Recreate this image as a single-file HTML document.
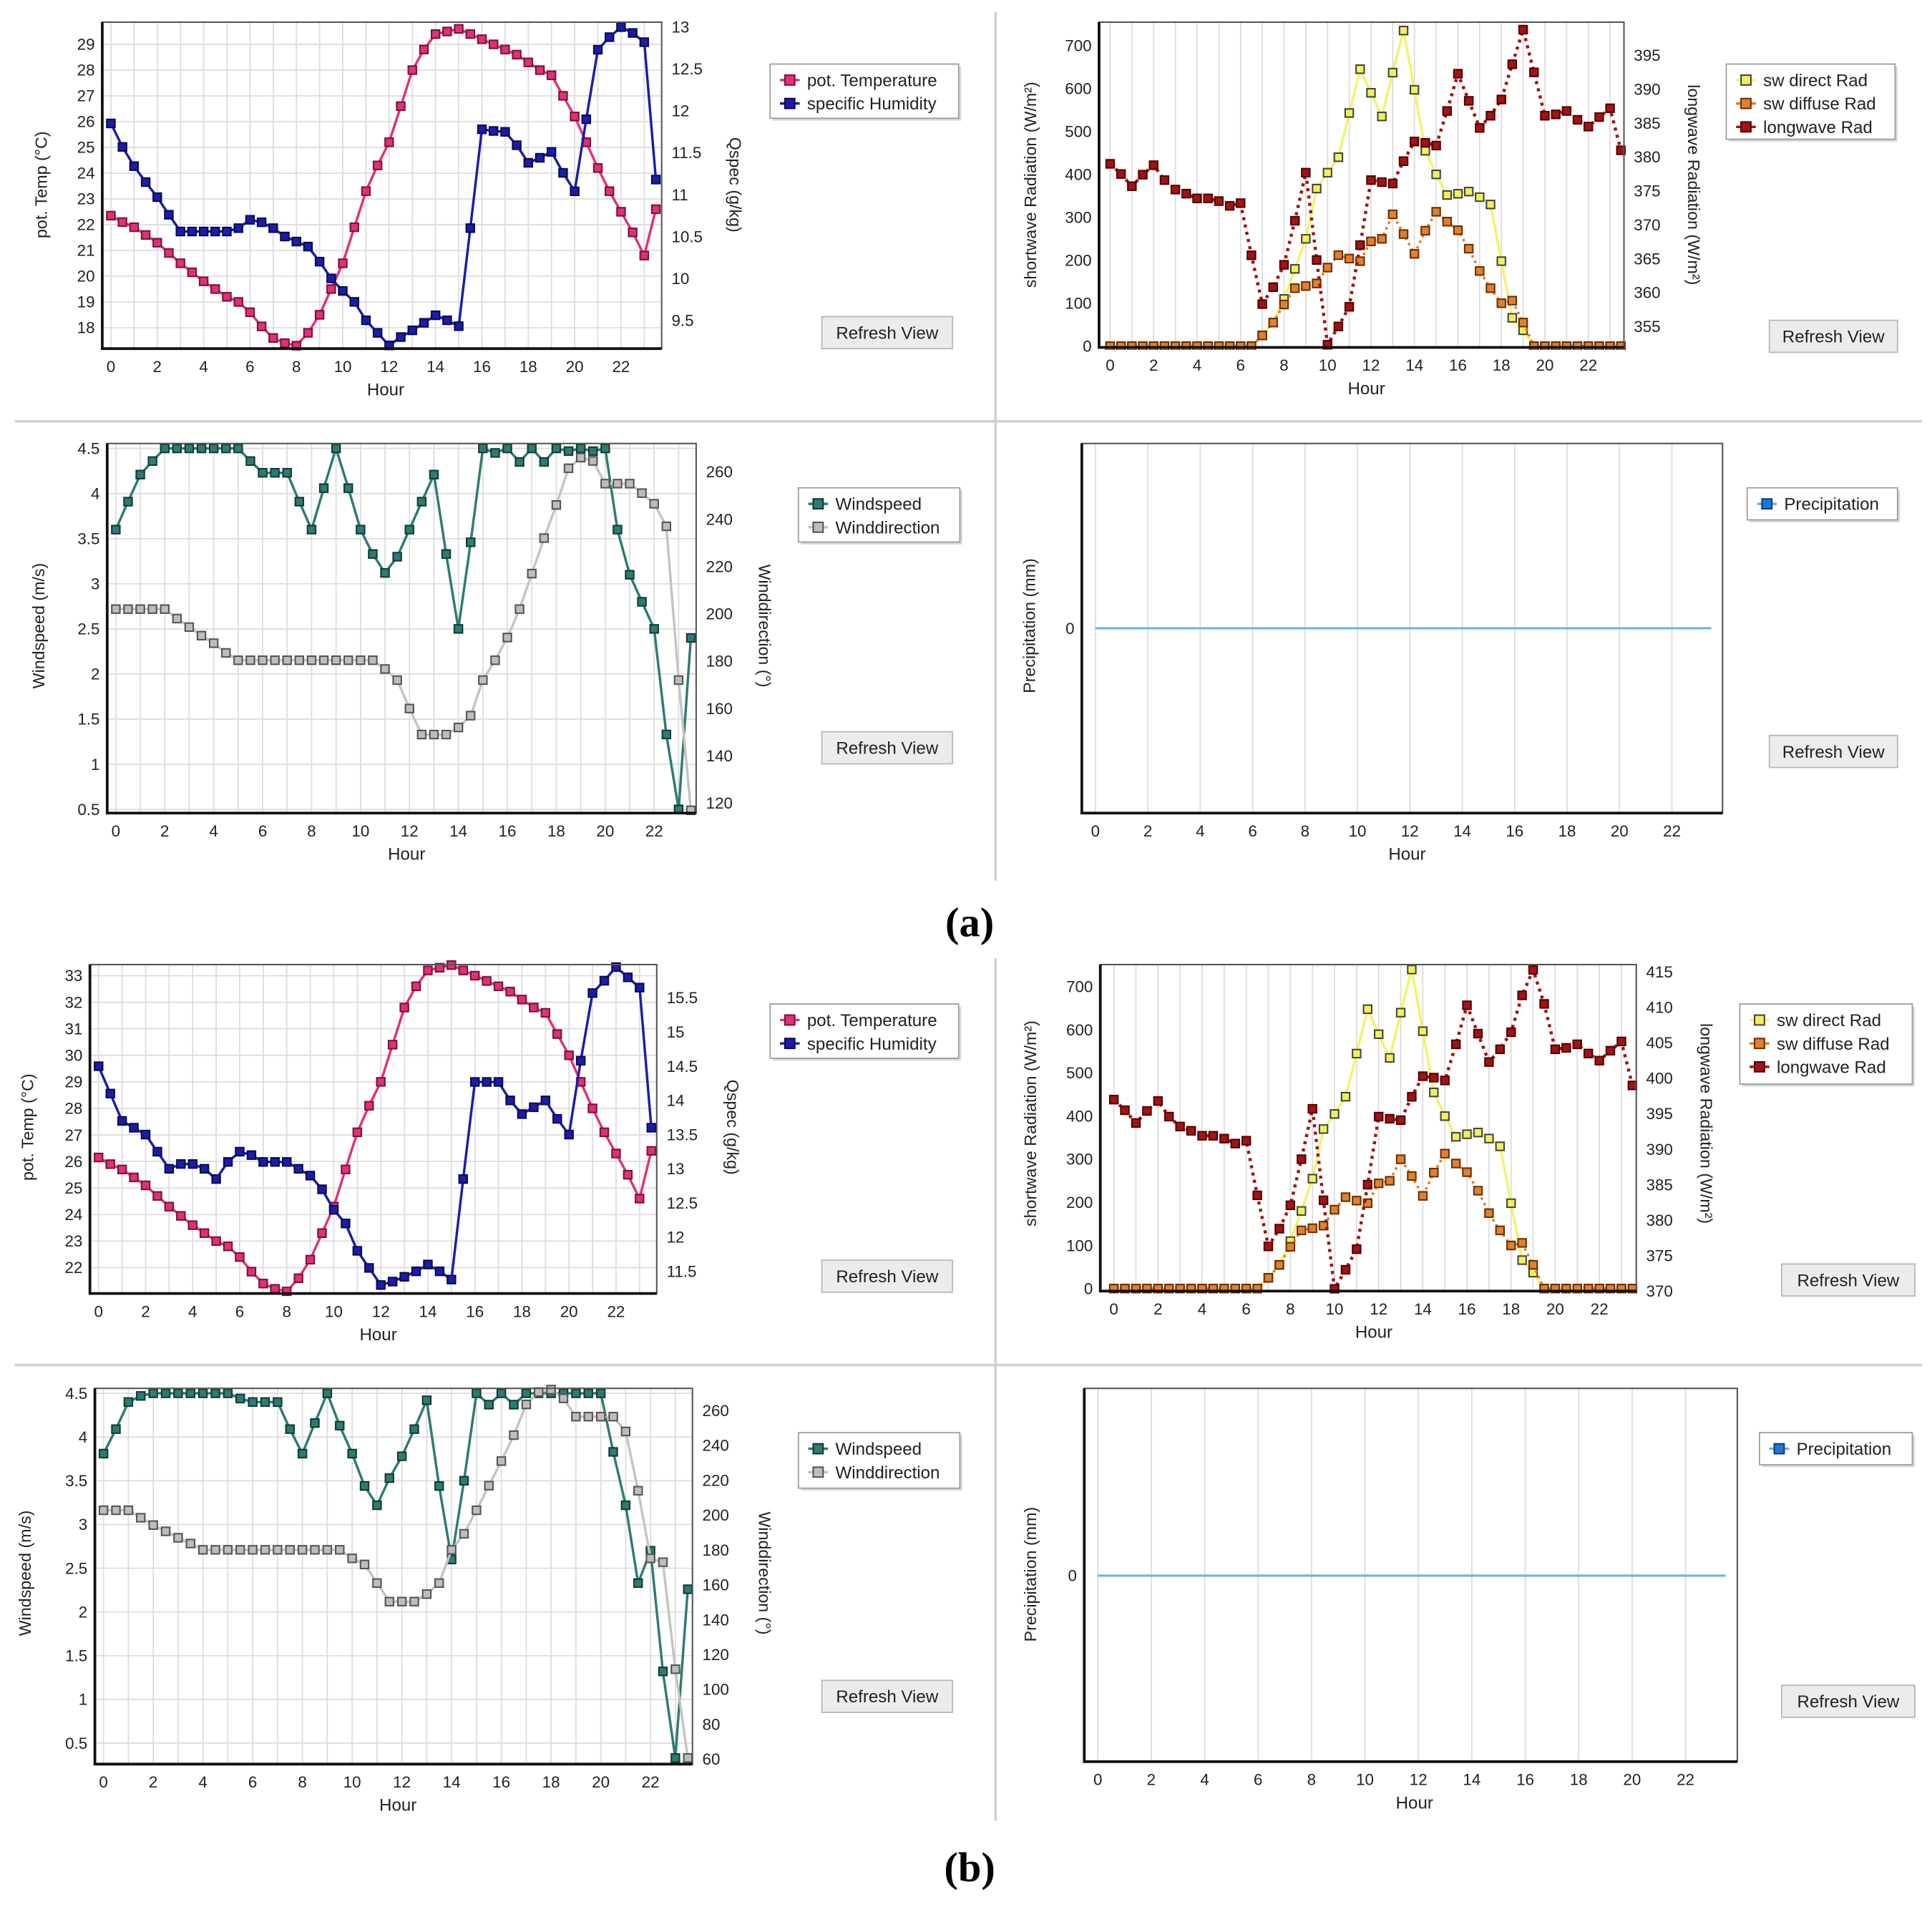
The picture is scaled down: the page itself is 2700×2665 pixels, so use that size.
<!DOCTYPE html>
<html><head><meta charset="utf-8"><title>Meteorological charts (a) and (b)</title>
<style>
html,body{margin:0;padding:0;background:#fff;}
svg{display:block;font-family:"Liberation Sans",sans-serif;}
</style></head>
<body>
<svg id="root" xmlns="http://www.w3.org/2000/svg" width="2700" height="2665" viewBox="0 0 1568 1548" preserveAspectRatio="none">
<rect x="0" y="0" width="1568" height="1548" fill="#fff"/>
<line x1="808" y1="10" x2="808" y2="715" stroke="#cfcfcf" stroke-width="2"/>
<line x1="808" y1="778" x2="808" y2="1478" stroke="#cfcfcf" stroke-width="2"/>
<line x1="12" y1="342" x2="1560" y2="342" stroke="#cfcfcf" stroke-width="2"/>
<line x1="12" y1="1108" x2="1560" y2="1108" stroke="#cfcfcf" stroke-width="2"/>
<text x="787" y="760" text-anchor="middle" font-family="Liberation Serif, serif" font-size="34" font-weight="bold">(a)</text>
<text x="787" y="1527" text-anchor="middle" font-family="Liberation Serif, serif" font-size="34" font-weight="bold">(b)</text>
</svg>
<script>
// ---------- data (half-hourly values, hour = index * 0.5) ----------
const xTickLabels = [0,2,4,6,8,10,12,14,16,18,20,22];

const tempA = [22.35,22.1,21.9,21.6,21.3,20.9,20.5,20.15,19.8,19.5,19.2,19.0,18.6,18.05,17.6,17.4,17.3,17.8,18.5,19.5,20.5,21.9,23.3,24.3,25.2,26.6,28.0,28.8,29.4,29.5,29.6,29.4,29.2,29.0,28.8,28.6,28.3,28.0,27.8,27.0,26.2,25.2,24.2,23.3,22.5,21.7,20.8,22.6];
const qspecA = [11.85,11.57,11.34,11.15,10.97,10.76,10.56,10.56,10.56,10.56,10.56,10.6,10.7,10.67,10.6,10.5,10.44,10.38,10.2,10.0,9.85,9.72,9.5,9.35,9.2,9.3,9.38,9.47,9.56,9.5,9.43,10.6,11.78,11.76,11.75,11.59,11.38,11.44,11.51,11.26,11.04,11.9,12.73,12.88,13.0,12.93,12.82,11.18];
const tempTicksA = [18,19,20,21,22,23,24,25,26,27,28,29];
const qspecTicksA = [9.5,10,10.5,11,11.5,12,12.5,13];

const swDirectA = [0,0,0,0,0,0,0,0,0,0,0,0,0,0,25,55,110,180,250,367,404,440,543,645,590,535,637,735,597,455,400,352,355,360,347,330,198,66,37,0,0,0,0,0,0,0,0,0];
const swDiffuseA = [0,0,0,0,0,0,0,0,0,0,0,0,0,0,25,55,97,135,140,146,183,212,204,198,244,250,307,261,215,269,313,290,270,227,175,135,100,106,55,0,0,0,0,0,0,0,0,0];
const longwaveA = [379,377.5,375.7,377.4,378.8,376.6,375.2,374.6,373.9,373.9,373.5,372.8,373.2,365.5,358.3,360.8,364.1,370.6,377.7,364.8,352.3,355,357.9,367,376.6,376.3,376.1,379.4,382.3,382.1,381.7,386.8,392.3,388.3,384.3,386.1,388.5,393.7,398.8,392.5,386.1,386.3,386.8,385.5,384.5,385.9,387.2,381];
const swTicksA = [0,100,200,300,400,500,600,700];
const lwTicksA = [355,360,365,370,375,380,385,390,395];

const windSpeedA = [3.6,3.91,4.21,4.36,4.5,4.5,4.5,4.5,4.5,4.5,4.5,4.36,4.23,4.23,4.23,3.91,3.6,4.06,4.5,4.06,3.6,3.33,3.12,3.3,3.6,3.91,4.21,3.33,2.5,3.46,4.5,4.45,4.5,4.35,4.5,4.35,4.5,4.47,4.5,4.47,4.5,3.6,3.1,2.8,2.5,1.33,0.5,2.4];
const windDirA = [202,202,202,202,202,198,194.4,190.8,187.6,183.5,180.4,180.4,180.4,180.4,180.4,180.4,180.4,180.4,180.4,180.4,180.4,180.4,176.7,172,160,149,149,149,152,157,172,180.4,190,202,217,232,246,261.5,266,264.6,255,255,255,251,246.5,237,172,117];
const wsTicks = [0.5,1,1.5,2,2.5,3,3.5,4,4.5];
const wdTicksA = [120,140,160,180,200,220,240,260];

const precipA = [0,0,0,0,0,0,0,0,0,0,0,0,0,0,0,0,0,0,0,0,0,0,0,0,0,0,0,0,0,0,0,0,0,0,0,0,0,0,0,0,0,0,0,0,0,0,0,0];
const precipTicks = [0];

const tempB = [26.15,25.9,25.7,25.4,25.1,24.7,24.3,23.95,23.6,23.3,23.0,22.8,22.4,21.85,21.4,21.2,21.1,21.6,22.3,23.3,24.3,25.7,27.1,28.1,29.0,30.4,31.8,32.6,33.2,33.3,33.4,33.2,33.0,32.8,32.6,32.4,32.1,31.8,31.6,30.8,30.0,29.0,28.0,27.1,26.3,25.5,24.6,26.4];
const qspecB = [14.5,14.1,13.7,13.6,13.5,13.25,13.0,13.07,13.07,13.0,12.85,13.1,13.25,13.2,13.1,13.1,13.1,13.0,12.9,12.7,12.4,12.2,11.8,11.55,11.3,11.35,11.42,11.5,11.6,11.5,11.38,12.85,14.27,14.27,14.27,14.0,13.8,13.9,14.0,13.73,13.5,14.58,15.57,15.75,15.95,15.8,15.65,13.6];
const tempTicksB = [22,23,24,25,26,27,28,29,30,31,32,33];
const qspecTicksB = [11.5,12,12.5,13,13.5,14,14.5,15,15.5];

const swDirectB = [0,0,0,0,0,0,0,0,0,0,0,0,0,0,25,55,110,180,255,370,405,445,545,648,590,535,640,740,597,455,400,352,358,362,348,330,198,66,37,0,0,0,0,0,0,0,0,0];
const swDiffuseB = [0,0,0,0,0,0,0,0,0,0,0,0,0,0,25,55,97,135,140,146,183,212,204,198,244,250,300,261,215,269,313,290,270,227,175,135,100,106,55,0,0,0,0,0,0,0,0,0];
const longwaveB = [397,395.5,393.7,395.4,396.8,394.6,393.2,392.6,391.9,391.9,391.5,390.8,391.2,383.5,376.3,378.8,382.1,388.6,395.7,382.8,370.3,373,375.9,385,394.6,394.3,394.1,397.4,400.3,400.1,399.7,404.8,410.3,406.3,402.3,404.1,406.5,411.7,415.3,410.5,404.1,404.3,404.8,403.5,402.5,403.9,405.2,399];
const swTicksB = [0,100,200,300,400,500,600,700];
const lwTicksB = [370,375,380,385,390,395,400,405,410,415];

const windSpeedB = [3.81,4.09,4.4,4.47,4.5,4.5,4.5,4.5,4.5,4.5,4.5,4.44,4.4,4.4,4.4,4.09,3.81,4.16,4.5,4.13,3.81,3.44,3.22,3.53,3.78,4.09,4.42,3.44,2.6,3.5,4.5,4.37,4.5,4.37,4.5,4.5,4.5,4.5,4.5,4.5,4.5,3.83,3.22,2.33,2.7,1.32,0.33,2.26];
const windDirB = [202.8,202.8,202.8,198.5,194.3,190.7,187,183.7,180.1,180.1,180.1,180.1,180.1,180.1,180.1,180.1,180.1,180.1,180.1,180.1,175.2,171.7,161,150.4,150.4,150.4,154.7,161,180.1,189.3,202.8,216.9,231,245.9,263.5,270.6,272,267,256.5,256.5,256.5,256.5,248,214,175.2,173,111.6,60.7];
const wdTicksB = [60,80,100,120,140,160,180,200,220,240,260];

const precipB = [0,0,0,0,0,0,0,0,0,0,0,0,0,0,0,0,0,0,0,0,0,0,0,0,0,0,0,0,0,0,0,0,0,0,0,0,0,0,0,0,0,0,0,0,0,0,0,0];

// ---------- drawing ----------
const NS = 'http://www.w3.org/2000/svg';
const root = document.getElementById('root');
function mk(tag, attrs, parent){
  const e = document.createElementNS(NS, tag);
  for (const k in attrs) e.setAttribute(k, attrs[k]);
  parent.appendChild(e);
  return e;
}
function label(e, name, inter){
  
  
  return e;
}
let clipId = 0;

function drawChart(c){
  const g = mk('g', {}, root);
  label(g, c.name, false);
  const X = h => c.hx0 + h * c.hpx;
  const L = v => c.L.p0 + (v - c.L.v0) * (c.L.p1 - c.L.p0) / (c.L.v1 - c.L.v0);
  const R = c.R ? (v => c.R.p0 + (v - c.R.v0) * (c.R.p1 - c.R.p0) / (c.R.v1 - c.R.v0)) : null;

  const bg = mk('rect', {x:c.x0, y:c.y0, width:c.x1-c.x0, height:c.y1-c.y0, fill:'#fff'}, g);
  label(bg, c.name + '-plot-area', false);
  const grid = mk('g', {stroke:'#dcdcdc','stroke-width':1}, g);
  label(grid, c.name + '-gridlines', false);
  for (let h = 0; h <= 23; h += c.gridStep) {
    mk('line', {x1:X(h), y1:c.y0, x2:X(h), y2:c.y1}, grid);
  }
  c.L.ticks.forEach(t => {
    if (c.hgrid) mk('line', {x1:c.x0, y1:L(t), x2:c.x1, y2:L(t)}, grid);
    const tx = mk('text', {x:c.x0-6, y:L(t)+4.5, 'text-anchor':'end', 'font-size':13, fill:'#222'}, g);
    label(tx, c.name + '-left-tick', false);
    tx.textContent = t;
  });
  if (R) c.R.ticks.forEach(t => {
    const tx = mk('text', {x:c.x1+8, y:R(t)+4.5, 'text-anchor':'start', 'font-size':13, fill:'#222'}, g);
    label(tx, c.name + '-right-tick', false);
    tx.textContent = t;
  });
  xTickLabels.forEach(t => {
    const tx = mk('text', {x:X(t), y:c.y1+19, 'text-anchor':'middle', 'font-size':13, fill:'#222'}, g);
    label(tx, c.name + '-x-tick', false);
    tx.textContent = t;
  });
  const xt = mk('text', {x:(c.hourX), y:c.y1+38, 'text-anchor':'middle', 'font-size':14, fill:'#222'}, g);
  label(xt, c.name + '-x-axis-title', false);
  xt.textContent = 'Hour';
  const lt = mk('text', {x:0, y:0, 'text-anchor':'middle', 'font-size':13.5, fill:'#222', transform:`translate(${c.lTitleX},${c.titleY}) rotate(-90)`}, g);
  label(lt, c.name + '-left-axis-title', false);
  lt.textContent = c.L.title;
  if (R) {
    const rt = mk('text', {x:0, y:0, 'text-anchor':'middle', 'font-size':13.5, fill:'#222', transform:`translate(${c.rTitleX},${c.titleY}) rotate(90)`}, g);
    label(rt, c.name + '-right-axis-title', false);
    rt.textContent = c.R.title;
  }

  const cid = 'clip' + (clipId++);
  const cp = mk('clipPath', {id:cid}, g);
  mk('rect', {x:c.x0, y:c.y0-4, width:c.x1-c.x0+4, height:c.y1-c.y0+6}, cp);
  const sg = mk('g', {'clip-path':`url(#${cid})`}, g);
  label(sg, c.name + '-series', false);
  c.series.forEach(s => {
    const Y = s.axis === 'R' ? R : L;
    const pts = s.data.map((v, i) => [X(i * 0.5), Y(v)]);
    const pl = mk('polyline', {points:pts.map(p => p[0].toFixed(1)+','+p[1].toFixed(1)).join(' '), fill:'none', stroke:s.line, 'stroke-width':s.lw || 2, 'stroke-dasharray':s.dash || 'none', 'stroke-linejoin':'round'}, sg);
    label(pl, s.name + '-line', false);
    if (s.marker !== false) {
      pts.forEach((p, i) => {
        const m = mk('rect', {x:p[0]-3.3, y:p[1]-3.3, width:6.6, height:6.6, fill:s.fill, stroke:s.stroke, 'stroke-width':1.2}, sg);
        
        
      });
    }
  });

  const fr = mk('rect', {x:c.x0, y:c.y0, width:c.x1-c.x0, height:c.y1-c.y0, fill:'none', stroke:'#555', 'stroke-width':1.2}, g);
  label(fr, c.name + '-frame', false);
  const la = mk('line', {x1:c.x0, y1:c.y0, x2:c.x0, y2:c.y1+1, stroke:'#111', 'stroke-width':2.2}, g);
  label(la, c.name + '-left-axis', false);
  const ba = mk('line', {x1:c.x0-1, y1:c.y1, x2:c.x1, y2:c.y1, stroke:'#111', 'stroke-width':2.2}, g);
  label(ba, c.name + '-x-axis', false);

  // legend
  const lg = mk('g', {}, g);
  label(lg, c.name + '-legend', false);
  const lb = c.legend;
  mk('rect', {x:lb.x+2, y:lb.y+2, width:lb.w, height:lb.h, fill:'#d8d8d8'}, lg);
  mk('rect', {x:lb.x, y:lb.y, width:lb.w, height:lb.h, fill:'#fff', stroke:'#9a9a9a', 'stroke-width':1}, lg);
  c.series.forEach((s, i) => {
    const ey = lb.y + 13 + i * 19;
    const eg = mk('g', {}, lg);
    label(eg, 'legend-entry-' + s.name, false);
    mk('line', {x1:lb.x+8, y1:ey, x2:lb.x+24, y2:ey, stroke:s.line, 'stroke-width':2}, eg);
    mk('rect', {x:lb.x+12, y:ey-4, width:8, height:8, fill:s.legendFill || s.fill, stroke:s.stroke, 'stroke-width':1.2}, eg);
    const t = mk('text', {x:lb.x+30, y:ey+5, 'font-size':14, fill:'#222'}, eg);
    t.textContent = s.label;
  });

  // refresh button
  const bt = mk('g', {}, g);
  label(bt, c.name + '-refresh-button', true);
  const b = c.button;
  mk('rect', {x:b.x, y:b.y, width:b.w, height:26, fill:'#ececec', stroke:'#b5b5b5', 'stroke-width':1}, bt);
  const btx = mk('text', {x:b.x+b.w/2, y:b.y+18, 'text-anchor':'middle', 'font-size':14, fill:'#222'}, bt);
  btx.textContent = 'Refresh View';
}

const pink = {line:'#e0307a', fill:'#e0307a', stroke:'#7a1238'};
const navy = {line:'#1c1ca8', fill:'#1c1ca8', stroke:'#0a0a50'};
const teal = {line:'#2e7b72', fill:'#2e7b72', stroke:'#103b36'};
const gray = {line:'#c4c4c4', fill:'#bdbdbd', stroke:'#555'};
const yel = {line:'#f3f36a', fill:'#f0f05a', stroke:'#444'};
const org = {line:'#e07a20', fill:'#e08030', stroke:'#6a3000', dash:'2,3'};
const red = {line:'#a01414', fill:'#a01414', stroke:'#500', dash:'2.5,3.5', lw:2.6};

function tempChart(name, d){
  drawChart({name, x0:d.x0, x1:d.x1, y0:d.y0, y1:d.y1, hx0:d.hx0, hpx:d.hpx, gridStep:1, hgrid:true,
    hourX:d.hourX, lTitleX:d.ltx, rTitleX:d.rtx, titleY:d.ty,
    L:{v0:d.L[0], p0:d.L[1], v1:d.L[2], p1:d.L[3], ticks:d.lt, title:'pot. Temp (°C)'},
    R:{v0:d.R[0], p0:d.R[1], v1:d.R[2], p1:d.R[3], ticks:d.rt, title:'Qspec (g/kg)'},
    series:[Object.assign({name:name+'-pot-temperature', label:'pot. Temperature', data:d.t, axis:'L'}, pink),
            Object.assign({name:name+'-specific-humidity', label:'specific Humidity', data:d.q, axis:'R'}, navy)],
    legend:d.legend, button:d.button});
}
function radChart(name, d){
  drawChart({name, x0:d.x0, x1:d.x1, y0:d.y0, y1:d.y1, hx0:d.hx0, hpx:d.hpx, gridStep:1, hgrid:false,
    hourX:d.hourX, lTitleX:d.ltx, rTitleX:d.rtx, titleY:d.ty,
    L:{v0:0, p0:d.L[0], v1:700, p1:d.L[1], ticks:d.lt, title:'shortwave Radiation (W/m²)'},
    R:{v0:d.R[0], p0:d.R[1], v1:d.R[2], p1:d.R[3], ticks:d.rt, title:'longwave Radiation (W/m²)'},
    series:[Object.assign({name:name+'-sw-direct', label:'sw direct Rad', data:d.a, axis:'L'}, yel),
            Object.assign({name:name+'-sw-diffuse', label:'sw diffuse Rad', data:d.b, axis:'L'}, org),
            Object.assign({name:name+'-longwave', label:'longwave Rad', data:d.c, axis:'R'}, red)],
    legend:d.legend, button:d.button});
}
function windChart(name, d){
  drawChart({name, x0:d.x0, x1:d.x1, y0:d.y0, y1:d.y1, hx0:d.hx0, hpx:d.hpx, gridStep:1, hgrid:true,
    hourX:d.hourX, lTitleX:d.ltx, rTitleX:d.rtx, titleY:d.ty,
    L:{v0:4.5, p0:d.L[0], v1:0.5, p1:d.L[1], ticks:wsTicks, title:'Windspeed (m/s)'},
    R:{v0:d.R[0], p0:d.R[1], v1:d.R[2], p1:d.R[3], ticks:d.rt, title:'Winddirection (°)'},
    series:[Object.assign({name:name+'-windspeed', label:'Windspeed', data:d.s, axis:'L'}, teal),
            Object.assign({name:name+'-winddirection', label:'Winddirection', data:d.w, axis:'R'}, gray)],
    legend:d.legend, button:d.button});
}
function precChart(name, d){
  drawChart({name, x0:d.x0, x1:d.x1, y0:d.y0, y1:d.y1, hx0:d.hx0, hpx:d.hpx, gridStep:2, hgrid:false,
    hourX:d.hourX, lTitleX:d.ltx, titleY:d.ty,
    L:{v0:0, p0:d.zero, v1:1, p1:d.zero-150, ticks:precipTicks, title:'Precipitation (mm)'},
    R:null,
    series:[{name:name+'-precipitation', label:'Precipitation', data:d.p, axis:'L', line:'#6cb2e6', fill:'#1f78d0', legendFill:'#1f78d0', stroke:'#0b3f80', marker:false, lw:1.8}],
    legend:d.legend, button:d.button});
}

tempChart('chart-a-temperature', {x0:83,x1:537,y0:18,y1:283,hx0:90,hpx:18.82,hourX:313,ltx:38,rtx:592,ty:150,
  L:[29,36,18,266], R:[13,22,9.5,260], lt:tempTicksA, rt:qspecTicksA, t:tempA, q:qspecA,
  legend:{x:625,y:52,w:153,h:44}, button:{x:667,y:257,w:106}});
radChart('chart-a-radiation', {x0:892,x1:1318,y0:18,y1:282,hx0:901,hpx:17.64,hourX:1109,ltx:841,rtx:1370,ty:150,
  L:[281,37], R:[355,265,395,45], lt:swTicksA, rt:lwTicksA, a:swDirectA, b:swDiffuseA, c:longwaveA,
  legend:{x:1401,y:52,w:137,h:61}, button:{x:1436,y:260,w:104}});
windChart('chart-a-wind', {x0:87,x1:565,y0:360,y1:660,hx0:94,hpx:19.86,hourX:330,ltx:36,rtx:616,ty:508,
  L:[364,657], R:[260,383,120,652], rt:wdTicksA, s:windSpeedA, w:windDirA,
  legend:{x:648,y:396,w:131,h:44}, button:{x:667,y:594,w:106}});
precChart('chart-a-precipitation', {x0:878,x1:1398,y0:360,y1:660,hx0:889,hpx:21.27,hourX:1142,ltx:840,ty:508,zero:510,p:precipA,
  legend:{x:1418,y:396,w:122,h:26}, button:{x:1436,y:597,w:104}});

tempChart('chart-b-temperature', {x0:73,x1:533,y0:783,y1:1050,hx0:80,hpx:19.09,hourX:307,ltx:27,rtx:590,ty:915,
  L:[33,792,22,1029], R:[15.5,810,11.5,1032], lt:tempTicksB, rt:qspecTicksB, t:tempB, q:qspecB,
  legend:{x:625,y:815,w:153,h:44}, button:{x:667,y:1023,w:106}});
radChart('chart-b-radiation', {x0:893,x1:1328,y0:783,y1:1048,hx0:904,hpx:17.91,hourX:1115,ltx:841,rtx:1380,ty:912,
  L:[1046,801], R:[370,1048,415,789], lt:swTicksB, rt:lwTicksB, a:swDirectB, b:swDiffuseB, c:longwaveB,
  legend:{x:1412,y:815,w:140,h:65}, button:{x:1446,y:1026,w:108}});
windChart('chart-b-wind', {x0:77,x1:562,y0:1127,y1:1432,hx0:84,hpx:20.18,hourX:323,ltx:25,rtx:616,ty:1277,
  L:[1131,1415], R:[260,1145,60,1428], rt:wdTicksB, s:windSpeedB, w:windDirB,
  legend:{x:648,y:1163,w:131,h:45}, button:{x:667,y:1364,w:106}});
precChart('chart-b-precipitation', {x0:880,x1:1410,y0:1127,y1:1430,hx0:891,hpx:21.68,hourX:1148,ltx:841,ty:1278,zero:1279,p:precipB,
  legend:{x:1428,y:1163,w:124,h:26}, button:{x:1446,y:1368,w:108}});
</script>
</body></html>
